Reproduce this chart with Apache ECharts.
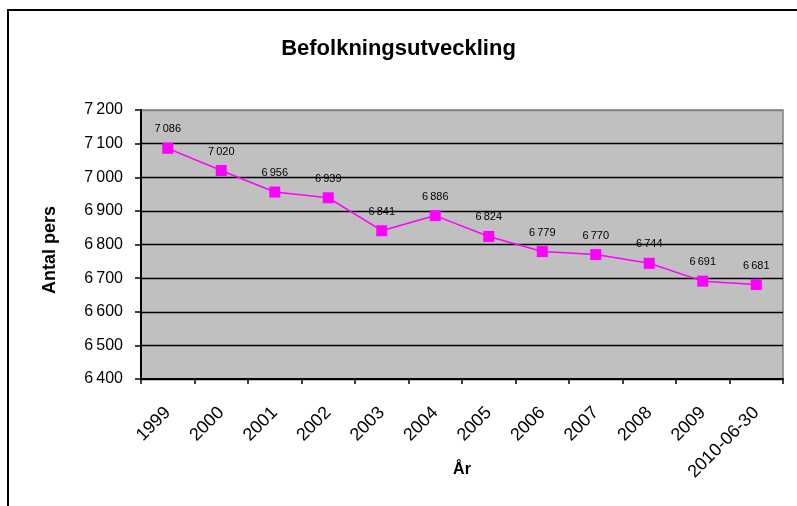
<!DOCTYPE html>
<html><head><meta charset="utf-8">
<script src="https://cdn.jsdelivr.net/npm/echarts@6/dist/echarts.min.js"></script>
<style>html,body{margin:0;padding:0;background:#fff}#c{width:797px;height:506px}</style>
</head><body><div id="c"></div>
<script>
const categories = ['1999','2000','2001','2002','2003','2004','2005','2006','2007','2008','2009','2010-06-30'];
const population = [7086, 7020, 6956, 6939, 6841, 6886, 6824, 6779, 6770, 6744, 6691, 6681];
const yTicks = [6400, 6500, 6600, 6700, 6800, 6900, 7000, 7100, 7200];

const fmt = v => { const s = String(v); return s.length > 3 ? s.slice(0, s.length-3) + '\u2009' + s.slice(-3) : s; };
const FONT = '"Liberation Sans", Arial, sans-serif';
const chart = echarts.init(document.getElementById('c'), null, {renderer:'canvas'});
chart.setOption({
  animation: false,
  backgroundColor: '#fff',
  title: { text: 'Befolkningsutveckling', left: 'center', top: 33,
    textStyle: { fontFamily: FONT, fontSize: 22, fontWeight: 'bold', color: '#000' } },
  graphic: [{ type: 'rect', shape: { x: 8, y: 10, width: 900, height: 600 },
    style: { fill: 'none', stroke: '#000', lineWidth: 2 }, z: -1 }],
  grid: { left: 141, right: 14, top: 110, bottom: 127, show: true,
    backgroundColor: '#c0c0c0', borderColor: '#808080', borderWidth: 1.5 },
  xAxis: { type: 'category', data: categories, boundaryGap: true,
    name: 'År', nameLocation: 'middle', nameGap: 83, nameMoveOverlap: false,
    nameTextStyle: { fontFamily: FONT, fontSize: 16, fontWeight: 'bold', color: '#000' },
    axisLine: { lineStyle: { color: '#000', width: 2 } },
    axisTick: { show: true, length: 5, lineStyle: { color: '#000', width: 1.5 } },
    axisLabel: { rotate: 45, margin: 31, fontFamily: FONT, fontSize: 18, color: '#000', interval: 0 } },
  yAxis: { type: 'value', min: yTicks[0], max: yTicks[yTicks.length-1], interval: 100,
    name: 'Antal pers', nameLocation: 'middle', nameGap: 82, nameRotate: 90, nameMoveOverlap: false,
    nameTextStyle: { fontFamily: FONT, fontSize: 18, fontWeight: 'bold', color: '#000', padding: [0, 11, 0, 0] },
    axisLine: { show: true, lineStyle: { color: '#000', width: 2 } },
    axisTick: { show: true, length: 6, lineStyle: { color: '#000', width: 1.5 } },
    axisLabel: { margin: 18, fontFamily: FONT, fontSize: 16, color: '#000', formatter: v => fmt(v) },
    splitLine: { show: true, lineStyle: { color: ['#000','#000','#000','#000','#000','#000','#000','#000','#808080'], width: 1.3 } } },
  series: [{ type: 'line', data: population, symbol: 'rect', symbolSize: 11,
    itemStyle: { color: '#ff00ff' }, lineStyle: { color: '#ff00ff', width: 1.5 },
    label: { show: true, position: 'top', distance: 8, fontFamily: FONT, fontSize: 11, color: '#000',
      formatter: p => fmt(p.value) } }]
});
</script></body></html>
